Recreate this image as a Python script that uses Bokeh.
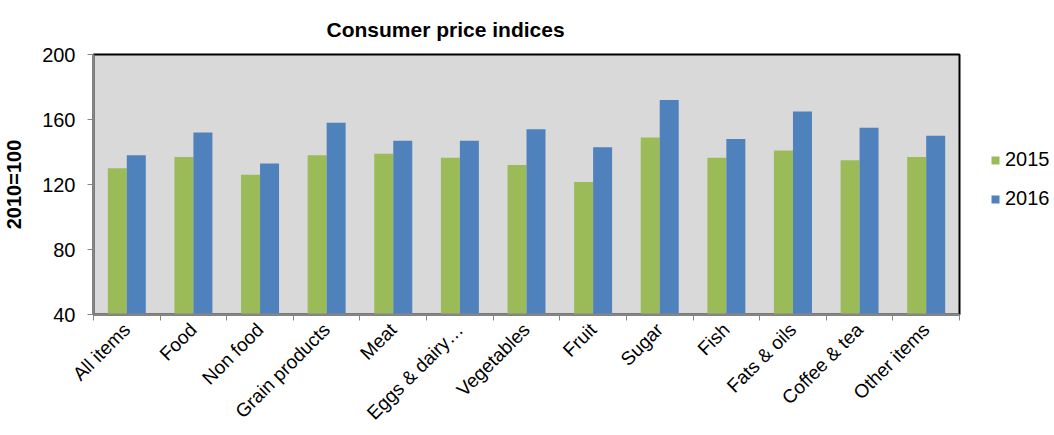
import math
from bokeh.plotting import figure
from bokeh.models import ColumnDataSource, FixedTicker, Legend, LegendItem, Range1d
from bokeh.transform import dodge
from bokeh.embed import file_html
from bokeh.resources import INLINE

categories = ["All items", "Food", "Non food", "Grain products", "Meat", "Eggs & dairy\u2026",
              "Vegetables", "Fruit", "Sugar", "Fish", "Fats & oils", "Coffee & tea", "Other items"]
v2015 = [130, 137, 126, 138, 139, 136.5, 132, 121.5, 149, 136.5, 141, 135, 137]
v2016 = [138, 152, 133, 158, 147, 147, 154, 143, 172, 148, 165, 155, 150]
y_ticks = [40, 80, 120, 160, 200]

n = len(categories)
xs = list(range(n))
src = ColumnDataSource(dict(x=xs, cat=categories, y15=v2015, y16=v2016))

p = figure(width=1038, height=419, frame_width=866, frame_height=260,
           output_backend="svg", toolbar_location=None,
           x_range=Range1d(-0.5, n - 0.5), y_range=Range1d(40, 200),
           min_border_left=84, min_border_right=88, min_border_top=54, min_border_bottom=105,
           title="Consumer price indices")

p.background_fill_color = "#D9D9D9"
p.border_fill_color = "white"
p.outline_line_color = "black"
p.outline_line_width = 2
p.grid.visible = False

bw = 0.285
r1 = p.vbar(x=dodge("x", -bw / 2, range=p.x_range), top="y15", bottom=40, width=bw,
            source=src, fill_color="#9BBB59", line_color=None)
r2 = p.vbar(x=dodge("x", bw / 2, range=p.x_range), top="y16", bottom=40, width=bw,
            source=src, fill_color="#4F81BD", line_color=None)

# title
p.title.text_font = "Liberation Sans"
p.title.text_font_size = "21px"
p.title.text_font_style = "bold"
p.title.text_color = "black"
p.title.align = "left"
p.title.offset = 233
p.title.standoff = 28

# x axis
xa = p.xaxis[0]
xa.ticker = FixedTicker(ticks=xs, minor_ticks=[i - 0.5 for i in range(n + 1)])
xa.major_label_overrides = {i: c for i, c in zip(xs, categories)}
xa.major_label_orientation = math.pi / 4
xa.major_tick_out = 0
xa.major_tick_in = 0
xa.minor_tick_out = 6
xa.minor_tick_in = 0
xa.minor_tick_line_color = "#868686"
xa.axis_line_color = "#868686"
xa.axis_line_width = 2
xa.major_label_text_font = "Liberation Sans"
xa.major_label_text_font_size = "19px"
xa.major_label_text_color = "black"
xa.major_label_standoff = 6

# y axis
ya = p.yaxis[0]
ya.ticker = FixedTicker(ticks=y_ticks, minor_ticks=[])
ya.axis_label = "2010=100"
ya.axis_label_text_font = "Liberation Sans"
ya.axis_label_text_font_size = "20px"
ya.axis_label_text_font_style = "bold"
ya.axis_label_text_color = "black"
ya.axis_label_standoff = 14
ya.major_tick_out = 6
ya.major_tick_in = 0
ya.major_tick_line_color = "#868686"
ya.axis_line_color = "#868686"
ya.axis_line_width = 2
ya.major_label_text_font = "Liberation Sans"
ya.major_label_text_font_size = "20px"
ya.major_label_text_color = "black"
ya.major_label_standoff = 12
ya.minor_tick_line_color = None

legend = Legend(items=[LegendItem(label="2015", renderers=[r1]),
                       LegendItem(label="2016", renderers=[r2])],
                location=(31, 104), orientation="vertical")
legend.border_line_color = None
legend.background_fill_alpha = 0
legend.padding = 0
legend.margin = 0
legend.spacing = 16
legend.glyph_width = 10
legend.glyph_height = 10
legend.label_height = 20
legend.label_standoff = 5
legend.label_text_font = "Liberation Sans"
legend.label_text_font_size = "20px"
legend.label_text_color = "black"
p.add_layout(legend, "right")

open("out.html", "w").write(file_html(p, INLINE))
